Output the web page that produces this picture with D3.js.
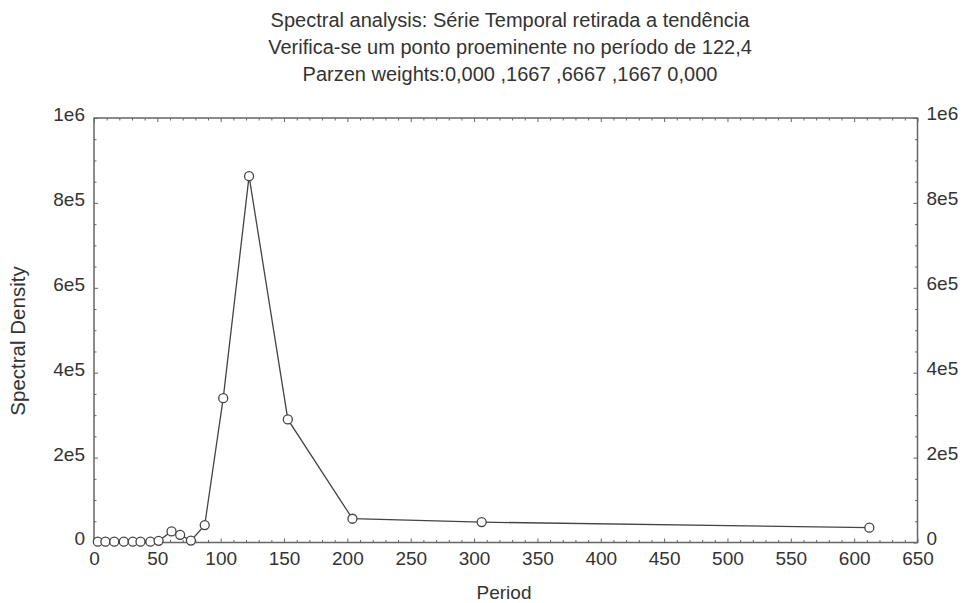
<!DOCTYPE html>
<html>
<head>
<meta charset="utf-8">
<script src="https://cdn.jsdelivr.net/npm/d3@7"></script>
<style>
  html, body { margin: 0; padding: 0; background: #fff; }
  svg { display: block; }
  text { font-family: "Liberation Sans", Arial, sans-serif; fill: #333; }
</style>
</head>
<body>
<svg id="chart" width="965" height="603"></svg>
<script>
// Smoothed periodogram of the detrended series (Parzen window)
const periods = [3, 9, 16, 23.5, 30.6, 36.7, 44.5, 51, 61.2, 68, 76.5, 87.4, 102, 122.4, 153, 204, 306, 612];
const density = [2000, 2000, 2000, 2000, 2000, 2000, 2000, 4000, 26000, 18000, 4500, 41000, 340000, 863000, 290000, 56000, 48000, 35000];

const xTicks = [0, 50, 100, 150, 200, 250, 300, 350, 400, 450, 500, 550, 600, 650];
const yTicks = [0, 200000, 400000, 600000, 800000, 1000000];
const yTickLabels = ["0", "2e5", "4e5", "6e5", "8e5", "1e6"];

const titleLines = [
  "Spectral analysis: Série Temporal retirada a tendência",
  "Verifica-se um ponto proeminente no período de 122,4",
  "Parzen weights:0,000 ,1667 ,6667 ,1667 0,000"
];
const xTitle = "Period";
const yTitle = "Spectral Density";

const svg = d3.select("#chart");
const L = 94, R = 917.5, T = 118, B = 542.5;
const ink = "#444", frameInk = "#666";

const x = d3.scaleLinear().domain([0, 650]).range([L, R]);
const y = d3.scaleLinear().domain([0, 1000000]).range([B, T]);

const xMinor = d3.range(0, 651, 10).filter(v => v % 50 !== 0);
const yMinor = d3.range(0, 1000001, 50000).filter(v => v % 200000 !== 0);

function styleAxis(g, labels, dy) {
  g.select(".domain").remove();
  g.selectAll("line").attr("stroke", frameInk).attr("stroke-width", 1);
  g.selectAll("text")
    .style("font-size", "19px")
    .attr("fill", "#333");
  if (dy) g.selectAll("text").attr("dy", dy);
  if (!labels) g.selectAll("text").remove();
}

const fmtY = v => yTickLabels[yTicks.indexOf(v)];

// major ticks (inward) with labels
svg.append("g").attr("transform", `translate(0,${B})`)
  .call(d3.axisBottom(x).tickValues(xTicks).tickFormat(d3.format("d")).tickSize(-4).tickPadding(9))
  .call(g => styleAxis(g, true));
svg.append("g").attr("transform", `translate(0,${T})`)
  .call(d3.axisTop(x).tickValues(xTicks).tickSize(-4))
  .call(g => styleAxis(g, false));
svg.append("g").attr("transform", `translate(${L},0)`)
  .call(d3.axisLeft(y).tickValues(yTicks).tickFormat(fmtY).tickSize(-4).tickPadding(9))
  .call(g => styleAxis(g, true, "0.13em"));
svg.append("g").attr("transform", `translate(${R},0)`)
  .call(d3.axisRight(y).tickValues(yTicks).tickFormat(fmtY).tickSize(-4).tickPadding(9))
  .call(g => styleAxis(g, true, "0.1em"));

// minor ticks
svg.append("g").attr("transform", `translate(0,${B})`)
  .call(d3.axisBottom(x).tickValues(xMinor).tickSize(-2.5))
  .call(g => styleAxis(g, false));
svg.append("g").attr("transform", `translate(0,${T})`)
  .call(d3.axisTop(x).tickValues(xMinor).tickSize(-2.5))
  .call(g => styleAxis(g, false));
svg.append("g").attr("transform", `translate(${L},0)`)
  .call(d3.axisLeft(y).tickValues(yMinor).tickSize(-2.5))
  .call(g => styleAxis(g, false));
svg.append("g").attr("transform", `translate(${R},0)`)
  .call(d3.axisRight(y).tickValues(yMinor).tickSize(-2.5))
  .call(g => styleAxis(g, false));

// plot frame
svg.append("rect")
  .attr("x", L).attr("y", T)
  .attr("width", R - L).attr("height", B - T)
  .attr("fill", "none").attr("stroke", frameInk).attr("stroke-width", 1.5);

// series
const pts = periods.map((p, i) => [p, density[i]]);
svg.append("path")
  .datum(pts)
  .attr("fill", "none")
  .attr("stroke", ink)
  .attr("stroke-width", 1.3)
  .attr("d", d3.line().x(d => x(d[0])).y(d => y(d[1])));

svg.append("g").selectAll("circle")
  .data(pts)
  .join("circle")
  .attr("cx", d => x(d[0]))
  .attr("cy", d => y(d[1]))
  .attr("r", 4.5)
  .attr("fill", "#fff")
  .attr("stroke", ink)
  .attr("stroke-width", 1.3);

// titles
svg.append("g").selectAll("text")
  .data(titleLines)
  .join("text")
  .attr("x", 510)
  .attr("y", (d, i) => 27 + i * 27)
  .attr("text-anchor", "middle")
  .style("font-size", "20px")
  .text(d => d);

svg.append("text")
  .attr("x", 504)
  .attr("y", 599)
  .attr("text-anchor", "middle")
  .style("font-size", "19px")
  .text(xTitle);

svg.append("text")
  .attr("transform", `translate(25,341) rotate(-90)`)
  .attr("text-anchor", "middle")
  .style("font-size", "20.5px")
  .text(yTitle);
</script>
</body>
</html>
